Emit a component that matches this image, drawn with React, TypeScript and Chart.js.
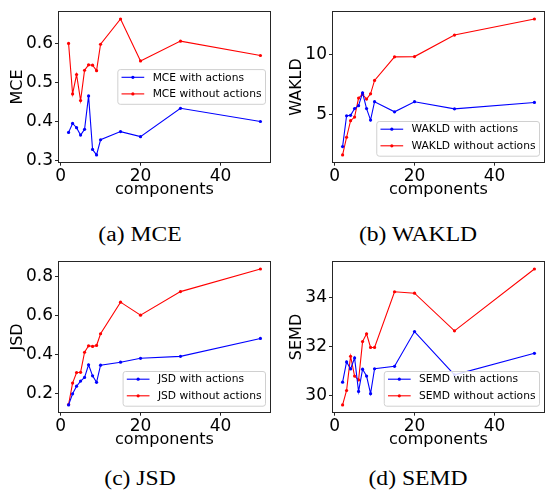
import React, { useEffect, useRef } from "react";
import { Chart, registerables } from "chart.js";

Chart.register(...registerables);

const components = [2, 3, 4, 5, 6, 7, 8, 9, 10, 15, 20, 30, 50];
const xTicks = [0, 20, 40];

const mceWith = [0.372, 0.395, 0.384, 0.365, 0.38, 0.466, 0.328, 0.314, 0.353, 0.374, 0.361, 0.434, 0.4];
const mceWithout = [0.601, 0.471, 0.521, 0.454, 0.532, 0.546, 0.545, 0.531, 0.599, 0.664, 0.556, 0.607, 0.57];
const mceTicks = [0.3, 0.4, 0.5, 0.6];

const wakldWith = [2.37, 4.92, 4.95, 5.51, 5.75, 6.81, 5.51, 4.56, 6.08, 5.24, 6.08, 5.49, 6.02];
const wakldWithout = [1.68, 3.14, 4.51, 4.81, 6.38, 6.7, 6.3, 6.73, 7.84, 9.79, 9.81, 11.59, 12.92];
const wakldTicks = [5, 10];

const jsdWith = [0.141, 0.198, 0.237, 0.263, 0.282, 0.347, 0.29, 0.257, 0.345, 0.36, 0.38, 0.39, 0.482];
const jsdWithout = [0.143, 0.253, 0.307, 0.308, 0.411, 0.444, 0.441, 0.446, 0.506, 0.668, 0.601, 0.722, 0.838];
const jsdTicks = [0.2, 0.4, 0.6, 0.8];

const semdWith = [30.54, 31.37, 31.08, 31.53, 30.16, 31.07, 30.79, 30.07, 31.09, 31.19, 32.61, 30.84, 31.72];
const semdWithout = [29.61, 30.2, 31.6, 30.79, 30.63, 32.2, 32.52, 31.96, 31.96, 34.24, 34.18, 32.64, 35.17];
const semdTicks = [30, 32, 34];

const BLUE = "#0000ff";
const RED = "#ff0000";
const FONT = "'DejaVu Sans'";

const framePlugin = {
  id: "frame",
  afterDatasetsDraw(chart: any) {
    const { ctx, chartArea: a } = chart;
    ctx.save();
    ctx.strokeStyle = "#262626";
    ctx.lineWidth = 1;
    ctx.strokeRect(Math.round(a.left) - 0.5, Math.round(a.top) - 0.5, Math.round(a.right - a.left) + 1, Math.round(a.bottom - a.top) + 1);
    ctx.restore();
  },
};

const legendPlugin = {
  id: "boxLegend",
  afterDraw(chart: any, _args: any, opts: any) {
    const { ctx, chartArea: a } = chart;
    ctx.save();
    ctx.font = `10.7px ${FONT}`;
    const items = chart.data.datasets.map((d: any) => ({ label: d.label, color: d.borderColor }));
    const tw = Math.max(...items.map((i: any) => ctx.measureText(i.label).width));
    const w = 3.7 + 22.7 + 8.4 + tw + 4;
    const h = 34.7;
    const x = a.right - 4.5 - w;
    const y = opts.loc === "center right" ? (a.top + a.bottom) / 2 - h / 2 : a.bottom - 5.5 - h;
    ctx.beginPath();
    (ctx as any).roundRect(x, y, w, h, 2.5);
    ctx.fillStyle = "rgba(255,255,255,0.85)";
    ctx.fill();
    ctx.strokeStyle = "#d0d0d0";
    ctx.lineWidth = 1;
    ctx.stroke();
    items.forEach((it: any, i: number) => {
      const cy = y + 7.7 + i * 16.6;
      ctx.strokeStyle = it.color;
      ctx.lineWidth = 1.1;
      ctx.beginPath();
      ctx.moveTo(x + 3.7, cy);
      ctx.lineTo(x + 26.4, cy);
      ctx.stroke();
      ctx.fillStyle = it.color;
      ctx.beginPath();
      ctx.arc(x + 15.05, cy, 1.6, 0, Math.PI * 2);
      ctx.fill();
      ctx.fillStyle = "#000";
      ctx.textBaseline = "middle";
      ctx.textAlign = "left";
      ctx.fillText(it.label, x + 34.8, cy + 0.5);
    });
    ctx.restore();
  },
};

function range(vals: number[]) {
  const mn = Math.min(...vals);
  const mx = Math.max(...vals);
  const m = (mx - mn) * 0.05;
  return [mn - m, mx + m];
}

type PanelProps = {
  name: string;
  withData: number[];
  withoutData: number[];
  yTicks: number[];
  decimals: number;
  loc: string;
  titlePad: number;
  left: number;
  top: number;
};

function Panel(p: PanelProps) {
  const ref = useRef<HTMLCanvasElement>(null);
  useEffect(() => {
    const [ymin, ymax] = range([...p.withData, ...p.withoutData]);
    const [xmin, xmax] = range(components);
    const mk = (label: string, data: number[], color: string) => ({
      label,
      data: components.map((c, i) => ({ x: c, y: data[i] })),
      borderColor: color,
      backgroundColor: color,
      borderWidth: 1.1,
      pointRadius: 1.6,
      pointBorderWidth: 0,
      pointBackgroundColor: color,
      tension: 0,
    });
    const tickFont = { family: FONT, size: 17 };
    const chart = new Chart(ref.current as HTMLCanvasElement, {
      type: "line",
      data: {
        datasets: [
          mk(`${p.name} with actions`, p.withData, BLUE),
          mk(`${p.name} without actions`, p.withoutData, RED),
        ],
      },
      options: {
        animation: false,
        responsive: false,
        maintainAspectRatio: false,
        devicePixelRatio: 1,
        layout: { padding: { top: 8, right: 3, bottom: 0, left: 0 } },
        plugins: {
          legend: { display: false },
          tooltip: { enabled: false },
          boxLegend: { loc: p.loc },
        } as any,
        scales: {
          x: {
            type: "linear",
            min: xmin,
            max: xmax,
            afterBuildTicks: (s: any) => {
              s.ticks = xTicks.map((v) => ({ value: v }));
            },
            afterFit: (s: any) => {
              s.height = 48.3;
            },
            grid: { drawOnChartArea: false, tickLength: 4, tickColor: "#262626", tickWidth: 1 },
            border: { display: false },
            ticks: {
              font: tickFont,
              color: "#000",
              padding: 1,
              maxRotation: 0,
              autoSkip: false,
              callback: (v: any) => String(v),
            },
            title: {
              display: true,
              text: "components",
              color: "#000",
              font: { family: FONT, size: 16 },
              padding: { top: 0, bottom: 10.4 },
            },
          },
          y: {
            type: "linear",
            min: ymin,
            max: ymax,
            afterBuildTicks: (s: any) => {
              s.ticks = p.yTicks.map((v) => ({ value: v }));
            },
            afterFit: (s: any) => {
              s.width = 59;
            },
            grid: { drawOnChartArea: false, tickLength: 4, tickColor: "#262626", tickWidth: 1 },
            border: { display: false },
            ticks: {
              font: tickFont,
              color: "#000",
              padding: 2,
              autoSkip: false,
              callback: (v: any) => Number(v).toFixed(p.decimals),
            },
            title: {
              display: true,
              text: p.name,
              color: "#000",
              font: { family: FONT, size: 16 },
              padding: { top: p.titlePad, bottom: 0 },
            },
          },
        },
      },
      plugins: [framePlugin, legendPlugin],
    } as any);
    return () => chart.destroy();
  }, []);
  return (
    <canvas
      ref={ref}
      width={274}
      height={210}
      style={{ position: "absolute", left: p.left, top: p.top, width: 274, height: 210 }}
    />
  );
}

function Caption({ text, center, baseline }: { text: string; center: number; baseline: number }) {
  return (
    <div
      style={{
        position: "absolute",
        left: center - 137,
        top: baseline - 16.75,
        width: 274,
        textAlign: "center",
        fontFamily: "'Liberation Serif', serif",
        fontSize: 20,
        lineHeight: "20px",
        color: "#000",
        transform: "scaleX(1.18)",
        whiteSpace: "nowrap",
      }}
    >
      {text}
    </div>
  );
}

export default function App() {
  return (
    <div style={{ position: "fixed", left: 0, top: 0, width: 548, height: 497, background: "#fff", overflow: "hidden" }}>
      <Panel name="MCE" withData={mceWith} withoutData={mceWithout} yTicks={mceTicks} decimals={1} loc="center right" titlePad={8.4} left={0} top={0} />
      <Panel name="WAKLD" withData={wakldWith} withoutData={wakldWithout} yTicks={wakldTicks} decimals={0} loc="lower right" titlePad={13.4} left={274} top={0} />
      <Panel name="JSD" withData={jsdWith} withoutData={jsdWithout} yTicks={jsdTicks} decimals={1} loc="lower right" titlePad={8.4} left={0} top={250} />
      <Panel name="SEMD" withData={semdWith} withoutData={semdWithout} yTicks={semdTicks} decimals={0} loc="lower right" titlePad={13.4} left={274} top={250} />
      <Caption text="(a) MCE" center={140} baseline={241} />
      <Caption text="(b) WAKLD" center={418} baseline={241} />
      <Caption text="(c) JSD" center={140} baseline={485} />
      <Caption text="(d) SEMD" center={418} baseline={485} />
    </div>
  );
}
